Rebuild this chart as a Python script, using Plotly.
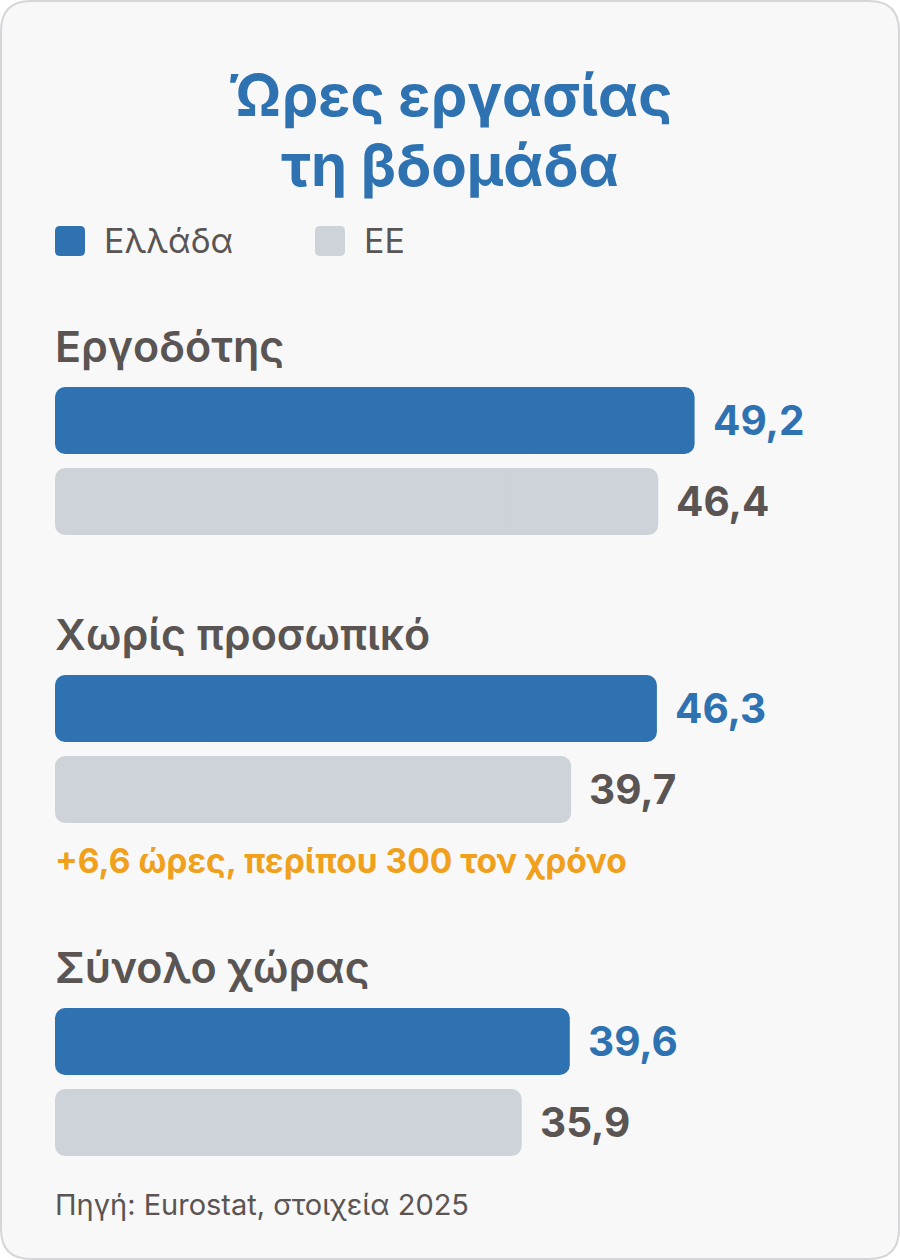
import plotly.graph_objects as go

# ---- data ----
categories = ["Εργοδότης", "Χωρίς προσωπικό", "Σύνολο χώρας"]
greece = [49.2, 46.3, 39.6]
eu = [46.4, 39.7, 35.9]
series_names = ["Ελλάδα", "ΕΕ"]
title_lines = ["Ώρες εργασίας", "τη βδομάδα"]
note_text = "+6,6 ώρες, περίπου 300 τον χρόνο"
source_text = "Πηγή: Eurostat, στοιχεία 2025"

# ---- style ----
W, H = 900, 1260
BLUE = "#2e72b1"
GRAY = "#cdd3d9"
TEXT = "#5a5553"
ORANGE = "#f0a01a"
CARD_BG = "#f8f8f9"
CARD_LINE = "#d6d6d8"
FONT = "Inter"

LEFT = 55
PX_PER_UNIT = 13.0
BAR_H = 67
BAR_GAP = 14
RADIUS = 10
group_top = [387, 675, 1008]


def px(x):
    return x / W


def py(y):
    return 1 - y / H


def rr(x0, y0, x1, y1, r):
    rx, ry = r / W, r / H
    X0, X1 = px(x0), px(x1)
    Y0, Y1 = py(y0), py(y1)
    return (f"M {X0+rx} {Y0} L {X1-rx} {Y0} Q {X1} {Y0} {X1} {Y0-ry} "
            f"L {X1} {Y1+ry} Q {X1} {Y1} {X1-rx} {Y1} "
            f"L {X0+rx} {Y1} Q {X0} {Y1} {X0} {Y1+ry} "
            f"L {X0} {Y0-ry} Q {X0} {Y0} {X0+rx} {Y0} Z")


def fmt(v):
    return f"{v:.1f}".replace(".", ",")


y_gr = [t + BAR_H / 2 for t in group_top]
y_eu = [t + BAR_H + BAR_GAP + BAR_H / 2 for t in group_top]

fig = go.Figure()
# each bar: two halves growing outward from its midpoint (so both ends are rounded)
# plus a square middle piece hiding the seam
for vals, ys, col, name in [(greece, y_gr, BLUE, series_names[0]), (eu, y_eu, GRAY, series_names[1])]:
    half = [v / 2 for v in vals]
    for sign in (1, -1):
        fig.add_trace(go.Bar(orientation="h", x=[sign * h for h in half], base=half, y=ys,
                             width=BAR_H, name=name, hoverinfo="skip",
                             marker=dict(color=col, cornerradius=RADIUS, line=dict(width=0))))
    fig.add_trace(go.Bar(orientation="h", x=half, base=[v / 4 for v in vals], y=ys,
                         width=BAR_H, name=name, hoverinfo="skip",
                         marker=dict(color=col, line=dict(width=0))))

shapes = [dict(type="path", xref="paper", yref="paper", path=rr(1, 1, W - 1, H - 1, 30),
               fillcolor=CARD_BG, line=dict(color=CARD_LINE, width=2), layer="below")]

ann = []
# title
for i, line in enumerate(title_lines):
    ann.append(dict(text=line, x=0.5, y=py(95 + i * 70), xref="paper", yref="paper",
                    xanchor="center", yanchor="middle", showarrow=False,
                    font=dict(family=FONT, size=58, color=BLUE, weight=700)))
# legend
leg_x = [55, 315]
for i, (name, col) in enumerate(zip(series_names, [BLUE, GRAY])):
    shapes.append(dict(type="path", xref="paper", yref="paper",
                       path=rr(leg_x[i], 226, leg_x[i] + 30, 256, 5),
                       fillcolor=col, line=dict(width=0)))
    ann.append(dict(text=name, x=px(leg_x[i] + 47), y=py(241), xref="paper", yref="paper",
                    xanchor="left", yanchor="middle", showarrow=False,
                    font=dict(family=FONT, size=34, color=TEXT, weight=400)))
# group headings and values
for i, cat in enumerate(categories):
    ann.append(dict(text=cat, x=px(LEFT - 2), y=py(group_top[i] - 41), xref="paper", yref="paper",
                    xanchor="left", yanchor="middle", showarrow=False,
                    font=dict(family=FONT, size=43, color=TEXT, weight=600)))
    ann.append(dict(text=fmt(greece[i]), x=greece[i], y=y_gr[i], xref="x", yref="y",
                    xanchor="left", yanchor="middle", xshift=16, showarrow=False,
                    font=dict(family=FONT, size=40.5, color=BLUE, weight=700)))
    ann.append(dict(text=fmt(eu[i]), x=eu[i], y=y_eu[i], xref="x", yref="y",
                    xanchor="left", yanchor="middle", xshift=16, showarrow=False,
                    font=dict(family=FONT, size=40.5, color=TEXT, weight=700)))
# note
ann.append(dict(text=note_text, x=px(LEFT - 2), y=py(861), xref="paper", yref="paper",
                xanchor="left", yanchor="middle", showarrow=False,
                font=dict(family=FONT, size=33.5, color=ORANGE, weight=700)))
# source
ann.append(dict(text=source_text, x=px(LEFT - 2), y=py(1204), xref="paper", yref="paper",
                xanchor="left", yanchor="middle", showarrow=False,
                font=dict(family=FONT, size=29, color=TEXT, weight=400)))

fig.update_layout(
    width=W, height=H, autosize=False,
    margin=dict(l=0, r=0, t=0, b=0),
    paper_bgcolor="white", plot_bgcolor="rgba(0,0,0,0)",
    showlegend=False, barmode="overlay",
    xaxis=dict(range=[-LEFT / PX_PER_UNIT, (W - LEFT) / PX_PER_UNIT], domain=[0, 1],
               visible=False, fixedrange=True),
    yaxis=dict(range=[H, 0], domain=[0, 1], visible=False, fixedrange=True),
    shapes=shapes, annotations=ann,
)

fig.write_html("out.html", config={"displayModeBar": False},
               post_script="document.body.style.margin='0';")
